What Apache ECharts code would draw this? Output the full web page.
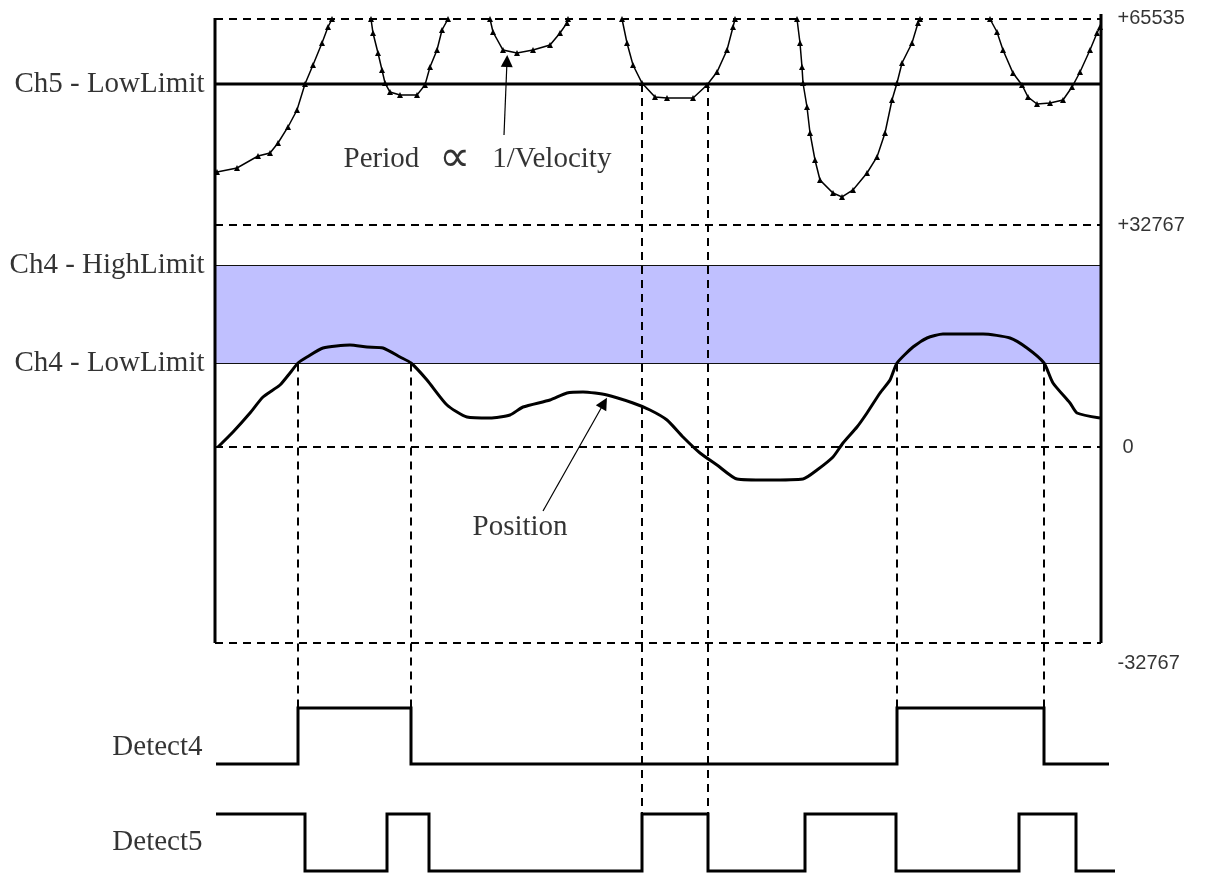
<!DOCTYPE html>
<html>
<head>
<meta charset="utf-8">
<script src="https://cdn.jsdelivr.net/npm/echarts@6/dist/echarts.min.js"></script>
<style>
html,body{margin:0;padding:0;background:#fff;}
#chart{width:1220px;height:873px;}
</style>
</head>
<body>
<div id="chart"></div>
<script>
// ---- Data (time axis t and level axis v are diagram units; v = 0 is the "0" count line) ----
const refLevels = [428, 222, 0, -196];
const refTickLabels = ['+65535', '+32767', '0', '-32767'];

const limitLevels = [363, 181.5, 83.5];        // Ch5 LowLimit, Ch4 HighLimit, Ch4 LowLimit
const limitLabels = ['Ch5 - LowLimit', 'Ch4 - HighLimit', 'Ch4 - LowLimit'];

const detectLabels = ['Detect4', 'Detect5'];

const positionData = [[3,0],[18,15],[35,34],[48,50],[65,62],[75,74],[83,84],[92,90],[108,99],[135,102],[152,100],[168,99],[185,90],[196,84],[212,67],[232,42],[252,30],[275,29],[295,32],[308,40],[335,47],[352,54],[368,55],[392,52],[418,44],[435,37],[452,27],[468,10],[485,-6],[502,-18],[522,-32],[552,-33],[588,-32],[602,-23],[618,-10],[628,4],[642,20],[652,34],[665,54],[675,67],[682,84],[698,100],[712,109],[728,113],[768,113],[795,109],[812,99],[829,84],[838,64],[855,44],[862,34],[885,29]];

const periodSegments = [
  [[2,275],[22,279],[43,291],[55,294],[63,304],[73,320],[82,337],[90,363],[98,382],[107,404],[113,420],[117,428]],
  [[156,428],[158,414],[163,394],[167,377],[170,364],[175,355],[185,352],[202,352],[210,362],[215,380],[222,397],[227,417],[233,428]],
  [[275,428],[278,415],[288,397],[302,394],[318,397],[335,402],[345,414],[352,424],[353,428]],
  [[407,428],[412,404],[418,382],[427,364],[440,350],[452,349],[478,349],[492,362],[502,375],[512,397],[518,420],[520,428]],
  [[582,428],[585,404],[587,380],[588,364],[592,340],[595,314],[600,287],[605,267],[618,254],[627,250],[638,257],[652,274],[662,290],[670,314],[677,347],[682,364],[687,384],[697,404],[703,424],[705,428]],
  [[775,428],[782,415],[788,397],[798,374],[807,362],[813,350],[822,343],[835,344],[848,347],[857,360],[865,375],[875,397],[882,414],[885,420]]
];

const detect4Edges = [1, 83, 196, 682, 829, 894];
const detect4States = [0, 1, 0, 1, 0];
const detect4Levels = [-317, -261];            // low, high
const detect5Edges = [1, 90, 172, 214, 427, 493, 590, 681, 804, 861, 900];
const detect5States = [1, 0, 1, 0, 1, 0, 1, 0, 1, 0];
const detect5Levels = [-424, -367];            // low, high

const ch4GuideTimes = [83, 196, 682, 829];
const ch5GuideTimes = [427, 493];

const annotations = ['Period \u221D 1/Velocity', 'Position'];
const annotationAnchors = [[128, 288], [257, -80]];
const arrowCoords = [[[289, 312], [292, 386]], [[328, -64], [389, 44]]];

// ---- Frame of the diagram ----
const tLeft = 0, tRight = 886;
const vBottom = -196, vTopLeft = 429, vTopRight = 433;

// ---- Build ----
function stepData(edges, states, levels) {
  const out = [];
  for (let i = 0; i < states.length; i++) {
    out.push([edges[i], levels[states[i]]]);
    out.push([edges[i + 1], levels[states[i]]]);
  }
  return out;
}
function lineSeries(data, lineStyle, z, extra) {
  return Object.assign({
    type: 'line', data: data, symbol: 'none', showSymbol: false,
    lineStyle: Object.assign({ color: '#000', join: 'miter', cap: 'butt' }, lineStyle),
    z: z, silent: true, clip: false, animation: false
  }, extra || {});
}
const dashed = { width: 2, type: [8, 6] };

const series = [];

// band
series.push(lineSeries([[tLeft, limitLevels[2]], [tRight, limitLevels[2]]], { width: 0, opacity: 0 }, 0, {
  markArea: {
    silent: true, animation: false,
    itemStyle: { color: '#C0C0FF' },
    data: [[{ coord: [tLeft, limitLevels[1]] }, { coord: [tRight, limitLevels[2]] }]]
  }
}));
// Ch4 limit lines
[limitLevels[1], limitLevels[2]].forEach(v => series.push(lineSeries([[tLeft, v], [tRight, v]], { width: 1, color: '#111' }, 2)));
// reference dashed lines
refLevels.forEach(v => series.push(lineSeries([[tLeft, v], [tRight, v]], dashed, 3)));
// vertical guides
ch4GuideTimes.forEach(t => series.push(lineSeries([[t, limitLevels[2]], [t, detect4Levels[1]]], dashed, 3)));
ch5GuideTimes.forEach(t => series.push(lineSeries([[t, limitLevels[0]], [t, detect5Levels[1]]], dashed, 3)));
// Ch5 LowLimit
series.push(lineSeries([[tLeft, limitLevels[0]], [tRight, limitLevels[0]]], { width: 3 }, 4));
// axes
series.push(lineSeries([[tLeft, vTopLeft], [tLeft, vBottom]], { width: 3 }, 5));
series.push(lineSeries([[tRight, vTopRight], [tRight, vBottom]], { width: 3 }, 5));
// position
series.push(lineSeries(positionData, { width: 3 }, 6, { smooth: 0.2 }));
// period
periodSegments.forEach(seg => series.push(lineSeries(seg, { width: 1.5 }, 6, {
  symbol: 'triangle', symbolSize: 6, showSymbol: true, itemStyle: { color: '#000' }
})));
// detect signals
series.push(lineSeries(stepData(detect4Edges, detect4States, detect4Levels), { width: 3 }, 6));
series.push(lineSeries(stepData(detect5Edges, detect5States, detect5Levels), { width: 3 }, 6));
// arrows
series.push({
  type: 'lines', coordinateSystem: 'cartesian2d', silent: true, animation: false, z: 7,
  symbol: ['none', 'triangle'], symbolSize: 12,
  lineStyle: { color: '#000', width: 1.2, opacity: 1 },
  data: arrowCoords.map(c => ({ coords: c }))
});

// text
const serifFamily = "'Liberation Serif', 'Times New Roman', serif";
const serifFont = { fontFamily: serifFamily, fontSize: 29, color: '#000' };
const tickFont = { fontFamily: "'Liberation Sans', Arial, sans-serif", fontSize: 20, color: '#000' };

const textItems = [];
limitLabels.forEach((s, i) => textItems.push({ name: s, value: [tLeft, limitLevels[i]],
  label: Object.assign({ position: 'left', distance: 10 }, serifFont) }));
const detectLevelsText = [(detect4Levels[0] + detect4Levels[1]) / 2 - 11, (detect5Levels[0] + detect5Levels[1]) / 2];
detectLabels.forEach((s, i) => textItems.push({ name: s, value: [tLeft, detectLevelsText[i]],
  label: Object.assign({ position: 'left', distance: 12 }, serifFont) }));
refTickLabels.forEach((s, i) => textItems.push({ name: s, value: [tRight, refLevels[i]],
  label: Object.assign({ position: 'right', distance: 16,
    offset: [s === '0' ? 5 : 0, i === 3 ? 20 : (i === 0 ? -1 : 0)] }, tickFont) }));
// Period annotation (the proportional sign drawn wider, as in the original)
textItems.push({ name: annotations[0], value: annotationAnchors[0],
  label: Object.assign({ position: 'right', distance: 0,
    formatter: function (p) {
      const parts = p.name.split(' \u221D ');
      return '{a|' + parts[0] + '}{b|\u221D}{a|' + parts[1] + '}';
    },
    rich: {
      a: { fontFamily: serifFamily, fontSize: 29, color: '#000' },
      b: { fontFamily: serifFamily, fontSize: 44, color: '#000', padding: [0, 22, 0, 20] }
    }
  }, serifFont) });
textItems.push({ name: annotations[1], value: annotationAnchors[1],
  label: Object.assign({ position: 'right', distance: 0 }, serifFont) });

series.push({
  type: 'scatter', silent: true, animation: false, z: 8, clip: false,
  symbolSize: 1, itemStyle: { color: 'rgba(0,0,0,0)' },
  label: { show: true, formatter: '{b}' },
  data: textItems
});

const chart = echarts.init(document.getElementById('chart'), null, { renderer: 'canvas' });
chart.setOption({
  backgroundColor: '#fff',
  animation: false,
  grid: { left: 210, right: 105, top: 10, bottom: 0 },
  xAxis: { type: 'value', min: -5, max: 900, show: false },
  yAxis: { type: 'value', min: -426, max: 437, show: false },
  series: series
});
</script>
</body>
</html>
